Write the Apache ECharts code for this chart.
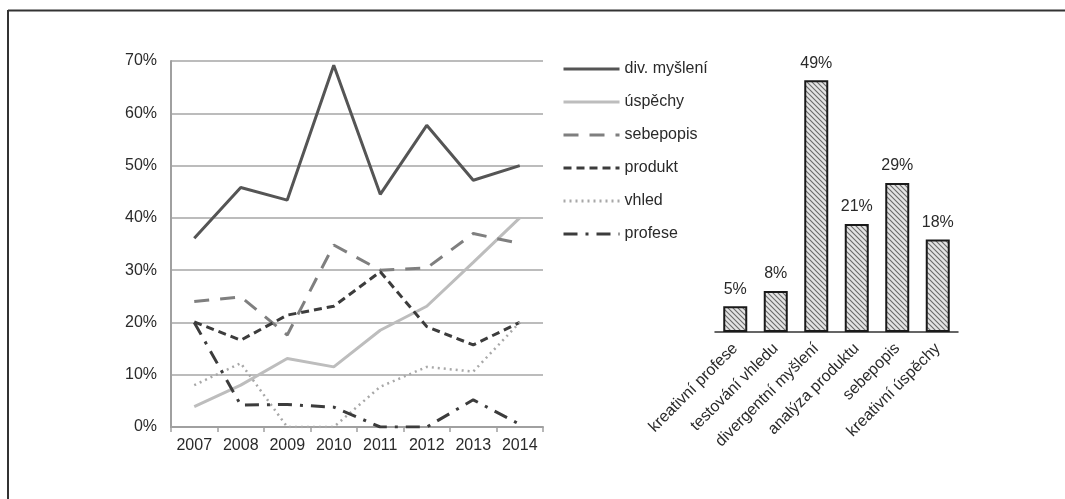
<!DOCTYPE html>
<html>
<head>
<meta charset="utf-8">
<script src="https://cdn.jsdelivr.net/npm/echarts@6/dist/echarts.min.js"></script>
<style>
  html, body { margin: 0; padding: 0; background: #fff; }
  #chart { width: 1065px; height: 499px; }
</style>
</head>
<body>
<div id="chart"></div>
<script>
// roky a hodnoty (v %)
const years = ['2007', '2008', '2009', '2010', '2011', '2012', '2013', '2014'];
const divMysleni = [36.1, 45.8, 43.4, 69.2, 44.5, 57.7, 47.2, 50];
const uspechy = [3.9, 8, 13.1, 11.5, 18.5, 23.1, 31.5, 40];
const sebepopis = [24, 24.9, 17.6, 34.8, 30, 30.4, 37, 35.1];
const produkt = [20.1, 16.6, 21.4, 23.1, 29.7, 19.2, 15.7, 20];
const vhled = [8, 12.2, 0, 0, 7.7, 11.5, 10.6, 20];
const profese = [20, 4.2, 4.3, 3.8, 0, 0, 5.2, 0.5];

const barCats = ['kreativní profese', 'testování vhledu', 'divergentní myšlení', 'analýza produktu', 'sebepopis', 'kreativní úspěchy'];
const barVals = [5, 8, 49, 21, 29, 18];

// šrafování sloupců
const hatch = document.createElement('canvas');
hatch.width = 5;
hatch.height = 5;
const hc = hatch.getContext('2d');
hc.fillStyle = '#e4e4e4';
hc.fillRect(0, 0, 5, 5);
hc.strokeStyle = '#6a6a6a';
hc.lineWidth = 1.1;
hc.beginPath();
hc.moveTo(-1, -1); hc.lineTo(6, 6);
hc.moveTo(-1, 4); hc.lineTo(1, 6);
hc.moveTo(4, -1); hc.lineTo(6, 1);
hc.stroke();

const font = 'Liberation Sans, Arial, sans-serif';

function lineSeries(name, data, color, width, type) {
  return {
    name: name,
    type: 'line',
    xAxisIndex: 0,
    yAxisIndex: 0,
    symbol: 'none',
    data: data,
    lineStyle: { color: color, width: width, type: type },
    itemStyle: { color: color }
  };
}

const chart = echarts.init(document.getElementById('chart'));
const option = {
  animation: false,
  backgroundColor: '#fff',
  textStyle: { fontFamily: font },
  graphic: [
    { type: 'line', shape: { x1: 8, y1: 10.5, x2: 1065, y2: 10.5 }, style: { stroke: '#333', lineWidth: 2 } },
    { type: 'line', shape: { x1: 8, y1: 10, x2: 8, y2: 499 }, style: { stroke: '#333', lineWidth: 2 } }
  ],
  legend: {
    orient: 'vertical',
    left: 557,
    top: 56,
    itemWidth: 56,
    itemHeight: 14,
    itemGap: 17,
    itemStyle: { opacity: 0 },
    lineStyle: { width: 3 },
    textStyle: { fontSize: 16, color: '#2a2a2a', fontFamily: font },
    data: ['div. myšlení', 'úspěchy', 'sebepopis', 'produkt', 'vhled', 'profese']
  },
  grid: [
    { left: 171, right: 522, top: 61, bottom: 72 },
    { left: 715, right: 107, top: 75, bottom: 167 }
  ],
  xAxis: [
    {
      gridIndex: 0,
      type: 'category',
      data: years,
      boundaryGap: true,
      axisLine: { lineStyle: { color: '#a0a0a0', width: 2 } },
      axisTick: { show: true, length: 5, lineStyle: { color: '#a0a0a0', width: 1.5 } },
      axisLabel: { fontSize: 16, color: '#2a2a2a', margin: 11 }
    },
    {
      gridIndex: 1,
      type: 'category',
      data: barCats,
      axisLine: { lineStyle: { color: '#333', width: 1.5 } },
      axisTick: { show: false },
      axisLabel: { rotate: 45, interval: 0, fontSize: 16, color: '#2a2a2a', margin: 14 }
    }
  ],
  yAxis: [
    {
      gridIndex: 0,
      type: 'value',
      min: 0,
      max: 70,
      interval: 10,
      axisLine: { show: true, lineStyle: { color: '#a0a0a0', width: 2 } },
      axisTick: { show: false },
      splitLine: { lineStyle: { color: '#a6a6a6', width: 1.5 } },
      axisLabel: { formatter: '{value}%', fontSize: 16, color: '#2a2a2a', margin: 14 }
    },
    {
      gridIndex: 1,
      type: 'value',
      min: 0,
      max: 50,
      show: false
    }
  ],
  series: [
    lineSeries('div. myšlení', divMysleni, '#555555', 3, 'solid'),
    lineSeries('úspěchy', uspechy, '#bdbdbd', 3, 'solid'),
    lineSeries('sebepopis', sebepopis, '#7f7f7f', 3, [15, 11]),
    lineSeries('produkt', produkt, '#3c3c3c', 3, [8, 5]),
    lineSeries('vhled', vhled, '#a8a8a8', 2.5, [2, 4]),
    lineSeries('profese', profese, '#3c3c3c', 3, [14, 8, 3, 8]),
    {
      type: 'bar',
      xAxisIndex: 1,
      yAxisIndex: 1,
      barWidth: 24,
      data: barVals,
      itemStyle: {
        color: { image: hatch, repeat: 'repeat' },
        borderColor: '#1a1a1a',
        borderWidth: 2
      },
      label: {
        show: true,
        position: 'top',
        distance: 9,
        formatter: '{c}%',
        fontSize: 16,
        color: '#2a2a2a'
      }
    }
  ]
};
chart.setOption(option);
</script>
</body>
</html>
